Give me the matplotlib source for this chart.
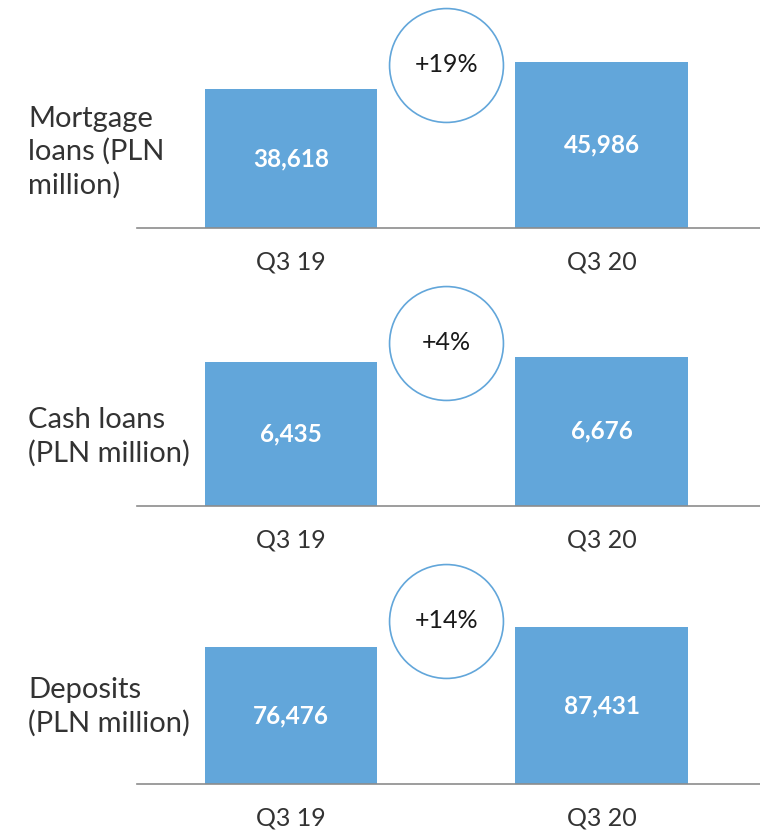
import numpy as np
import matplotlib
matplotlib.use("Agg")
import matplotlib.pyplot as plt

# Data
periods = ["Q3 19", "Q3 20"]
row_labels = ["Mortgage\nloans (PLN\nmillion)", "Cash loans\n(PLN million)", "Deposits\n(PLN million)"]
mortgage = [38618, 45986]
cash = [6435, 6676]
deposits = [76476, 87431]
growth = ["+19%", "+4%", "+14%"]

series = [mortgage, cash, deposits]
headroom = [1.377, 1.526, 1.456]   # ylim top / max value, per panel
baselines_px = [228, 506, 784]      # baseline y of each panel in pixels from top
label_centers_px = [152, 437, 707]  # vertical centre of the row labels

W, H = 760, 833
bar_color = "#62A6DA"
ring_color = "#62A6DA"
text_dark = "#333333"

plt.rcParams['font.family'] = ['Lato', 'DejaVu Sans']

fig = plt.figure(figsize=(W / 100, H / 100), dpi=100)

ax_left = 137 / W
ax_w = (W - 137) / W
ax_h = 228 / H

x = np.arange(len(periods))
for i, vals in enumerate(series):
    base = baselines_px[i]
    ax = fig.add_axes([ax_left, (H - base) / H, ax_w, ax_h])
    ax.bar(x, vals, width=0.555, color=bar_color, zorder=2)
    ax.set_xlim(-0.496, 1.51)
    ax.set_ylim(0, max(vals) * headroom[i])

    for s in ["top", "right", "left"]:
        ax.spines[s].set_visible(False)
    ax.spines["bottom"].set_color("#8c8c8c")
    ax.spines["bottom"].set_linewidth(1.2)
    ax.set_yticks([])
    ax.set_xticks(x)
    ax.set_xticklabels(periods, fontsize=18, color=text_dark)
    ax.tick_params(axis="x", length=0, pad=16)

    for xi, v in zip(x, vals):
        ax.text(xi, v / 2, f"{v:,}", ha="center", va="center",
                color="white", fontsize=17.5, fontweight="bold")

    # growth circle
    tr = ax.get_xaxis_transform()
    ax.scatter([0.5], [0.715], s=82 ** 2, transform=tr, facecolor="white",
               edgecolor=ring_color, linewidth=1.2, zorder=3, clip_on=False)
    ax.text(0.5, 0.715, growth[i], transform=tr, ha="center", va="center",
            fontsize=18, color="#1a1a1a", zorder=4)

    # row label, left of the axis
    ax.text((28 - 137) / (W - 137), (base - label_centers_px[i]) / 228, row_labels[i],
            transform=ax.transAxes, ha="left", va="center",
            fontsize=21, color=text_dark, linespacing=1.3)

fig.savefig("out.png", dpi=100)
